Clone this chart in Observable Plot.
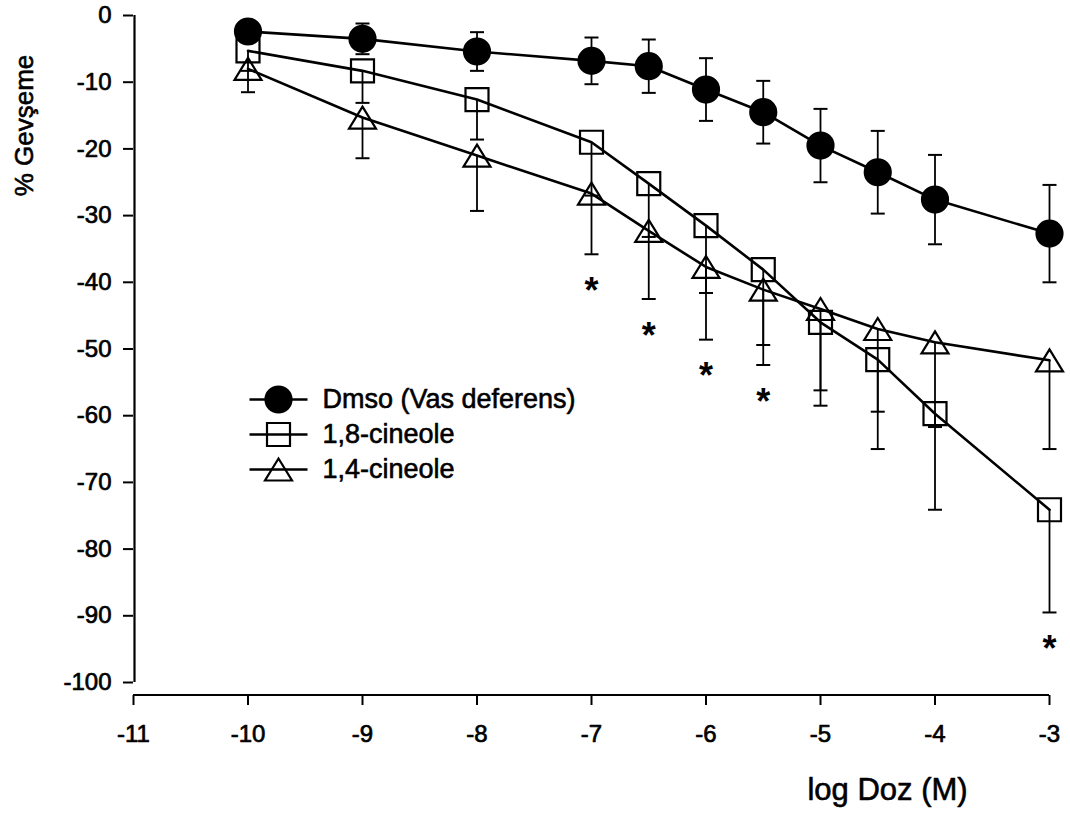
<!DOCTYPE html>
<html>
<head>
<meta charset="utf-8">
<script src="https://cdn.jsdelivr.net/npm/d3@7"></script>
<script src="https://cdn.jsdelivr.net/npm/@observablehq/plot@0.6"></script>
<style>
  html, body { margin: 0; padding: 0; background: #fff; }
  #chart { width: 1070px; height: 818px; }
</style>
</head>
<body>
<div id="chart"></div>
<script>
// ---------- data ----------
const doses = [-10, -9, -8, -7, -6.5, -6, -5.5, -5, -4.5, -4, -3];
const dmso    = [-2.4, -3.5, -5.4, -6.8, -7.6, -11.1, -14.5, -19.5, -23.5, -27.6, -32.7];
const dmsoSE  = [1.0, 2.3, 2.9, 3.5, 4.0, 4.7, 4.7, 5.5, 6.2, 6.7, 7.3];
const cin18   = [-5.3, -8.3, -12.6, -19.0, -25.2, -31.5, -38.1, -46.0, -51.6, -59.7, -74.1];
const cin18SE = [3.0, 4.8, 6.0, 8.0, 8.0, 10.1, 11.3, 12.5, 13.4, 14.4, 15.4];
const cin14   = [-8.0, -15.3, -21.0, -26.7, -32.3, -37.7, -41.1, -44.0, -47.0, -49.0, -51.7];
const cin14SE = [3.5, 6.1, 8.3, 9.1, 10.2, 10.9, 11.3, 12.2, 12.4, 12.7, 13.3];
const seriesNames = ["Dmso (Vas deferens)", "1,8-cineole", "1,4-cineole"];
const sigDoses = [-7, -6.5, -6, -5.5, -3];
const xTicks = [-11, -10, -9, -8, -7, -6, -5, -4, -3];
const xTickLabels = ["-11", "-10", "-9", "-8", "-7", "-6", "-5", "-4", "-3"];
const yTicks = [0, -10, -20, -30, -40, -50, -60, -70, -80, -90, -100];
const yTickLabels = ["0", "-10", "-20", "-30", "-40", "-50", "-60", "-70", "-80", "-90", "-100"];
const xTitle = "log Doz (M)";
const yTitle = "% Gevşeme";

// ---------- layout / style ----------
const W = 1070, H = 818;
const mL = 133, mR = 21, mT = 15, mB = 123;
const font = "'Liberation Sans', Arial, Helvetica, sans-serif";

// custom symbols (fixed pixel sizes)
const squareSym = {draw(c) { const s = 11.5; c.moveTo(-s, -s); c.lineTo(s, -s); c.lineTo(s, s); c.lineTo(-s, s); c.closePath(); }};
const triSym = {draw(c) { const w = 13.5, h = 11; c.moveTo(0, -h); c.lineTo(w, h); c.lineTo(-w, h); c.closePath(); }};
const circleSym = {draw(c) { const r = 13; c.moveTo(r, 0); c.arc(0, 0, r, 0, 2 * Math.PI); c.closePath(); }};
const capSym = {draw(c) { c.moveTo(-7, 0); c.lineTo(7, 0); }};
const legLineSym = {draw(c) { c.moveTo(-29, 0); c.lineTo(29, 0); }};

const series = [
  {name: seriesNames[0], values: dmso, se: dmsoSE, twoSided: true, sym: circleSym, fill: "black"},
  {name: seriesNames[1], values: cin18, se: cin18SE, twoSided: false, sym: squareSym, fill: "none"},
  {name: seriesNames[2], values: cin14, se: cin14SE, twoSided: false, sym: triSym, fill: "none"}
];

const rows = series.flatMap(s => doses.map((d, i) => ({
  series: s.name, x: d, y: s.values[i],
  lo: s.values[i] - s.se[i],
  hi: s.twoSided ? s.values[i] + s.se[i] : s.values[i]
})));
const caps = rows.flatMap(r => r.hi !== r.y ? [{x: r.x, y: r.lo}, {x: r.x, y: r.hi}] : [{x: r.x, y: r.lo}]);
const stars = sigDoses.map(d => ({x: d, y: d3.min(rows.filter(r => r.x === d), r => r.lo)}));

const heavy = {stroke: "black", strokeWidth: 0.6};

const marks = [
  Plot.axisY({ticks: yTicks, tickFormat: d => yTickLabels[yTicks.indexOf(d)], tickSize: 10, tickPadding: 12,
              fontSize: 24, strokeWidth: 2, label: null, fill: "black", stroke: "black",
              textStroke: "black", textStrokeWidth: 0.7}),
  Plot.axisX({ticks: xTicks, tickFormat: d => xTickLabels[xTicks.indexOf(d)], tickSize: 10, tickPadding: 19,
              fontSize: 24, strokeWidth: 2, label: null, fill: "black", stroke: "black",
              textStroke: "black", textStrokeWidth: 0.7}),
  Plot.ruleX([xTicks[0]], {y1: yTicks[yTicks.length - 1], y2: yTicks[0], stroke: "black", strokeWidth: 2.2, dx: 1}),
  // error bars
  Plot.ruleX(rows, {x: "x", y1: "lo", y2: "hi", stroke: "black", strokeWidth: 1.8}),
  Plot.dot(caps, {x: "x", y: "y", symbol: capSym, stroke: "black", strokeWidth: 2, fill: "none"}),
  // lines
  Plot.line(rows, {x: "x", y: "y", z: "series", stroke: "black", strokeWidth: 2.6}),
  // markers
  ...series.map(s => Plot.dot(rows.filter(r => r.series === s.name), {
    x: "x", y: "y", symbol: s.sym, fill: s.fill, stroke: "black", strokeWidth: 2.2
  })),
  // significance asterisks
  Plot.text(stars, {x: "x", y: "y", text: () => "*", fontSize: 36, fontWeight: "bold", dy: 37, fill: "black", textAnchor: "middle"}),
  // axis titles
  Plot.text([xTitle], {text: d => d, frameAnchor: "bottom", dx: 296, dy: 82, lineAnchor: "top",
                       fontSize: 31, fill: "black", ...heavy}),
  Plot.text([yTitle], {text: d => d, frameAnchor: "left", dx: -109, dy: -230, rotate: -90,
                       lineAnchor: "middle", textAnchor: "middle", fontSize: 26, fill: "black", ...heavy})
];

// legend (pixel offsets from frame's top-left)
const legX = 145, legTextX = 189, legY0 = 384, legStep = 35;
series.forEach((s, k) => {
  const dy = legY0 + k * legStep;
  marks.push(Plot.dot([0], {frameAnchor: "top-left", dx: legX, dy, symbol: legLineSym, stroke: "black", strokeWidth: 2.4, fill: "none"}));
  marks.push(Plot.dot([0], {frameAnchor: "top-left", dx: legX, dy, symbol: s.sym, stroke: "black", strokeWidth: 2.2, fill: s.fill}));
  marks.push(Plot.text([s.name], {text: d => d, frameAnchor: "top-left", dx: legTextX, dy, textAnchor: "start",
                                  lineAnchor: "middle", fontSize: 27, fill: "black", ...heavy}));
});

const chart = Plot.plot({
  width: W, height: H,
  marginLeft: mL, marginRight: mR, marginTop: mT, marginBottom: mB,
  style: {fontFamily: font, background: "white", color: "black", overflow: "visible"},
  x: {domain: [xTicks[0], xTicks[xTicks.length - 1]]},
  y: {domain: [yTicks[yTicks.length - 1], yTicks[0]], range: [682, mT]},
  marks
});

// x-axis baseline (offset below the y range, as in the reference)
const sx = chart.scale("x");
d3.select(chart).append("line")
  .attr("x1", sx.apply(xTicks[0])).attr("x2", sx.apply(xTicks[xTicks.length - 1]))
  .attr("y1", H - mB).attr("y2", H - mB)
  .attr("stroke", "black").attr("stroke-width", 2.2);

document.getElementById("chart").appendChild(chart);
</script>
</body>
</html>
